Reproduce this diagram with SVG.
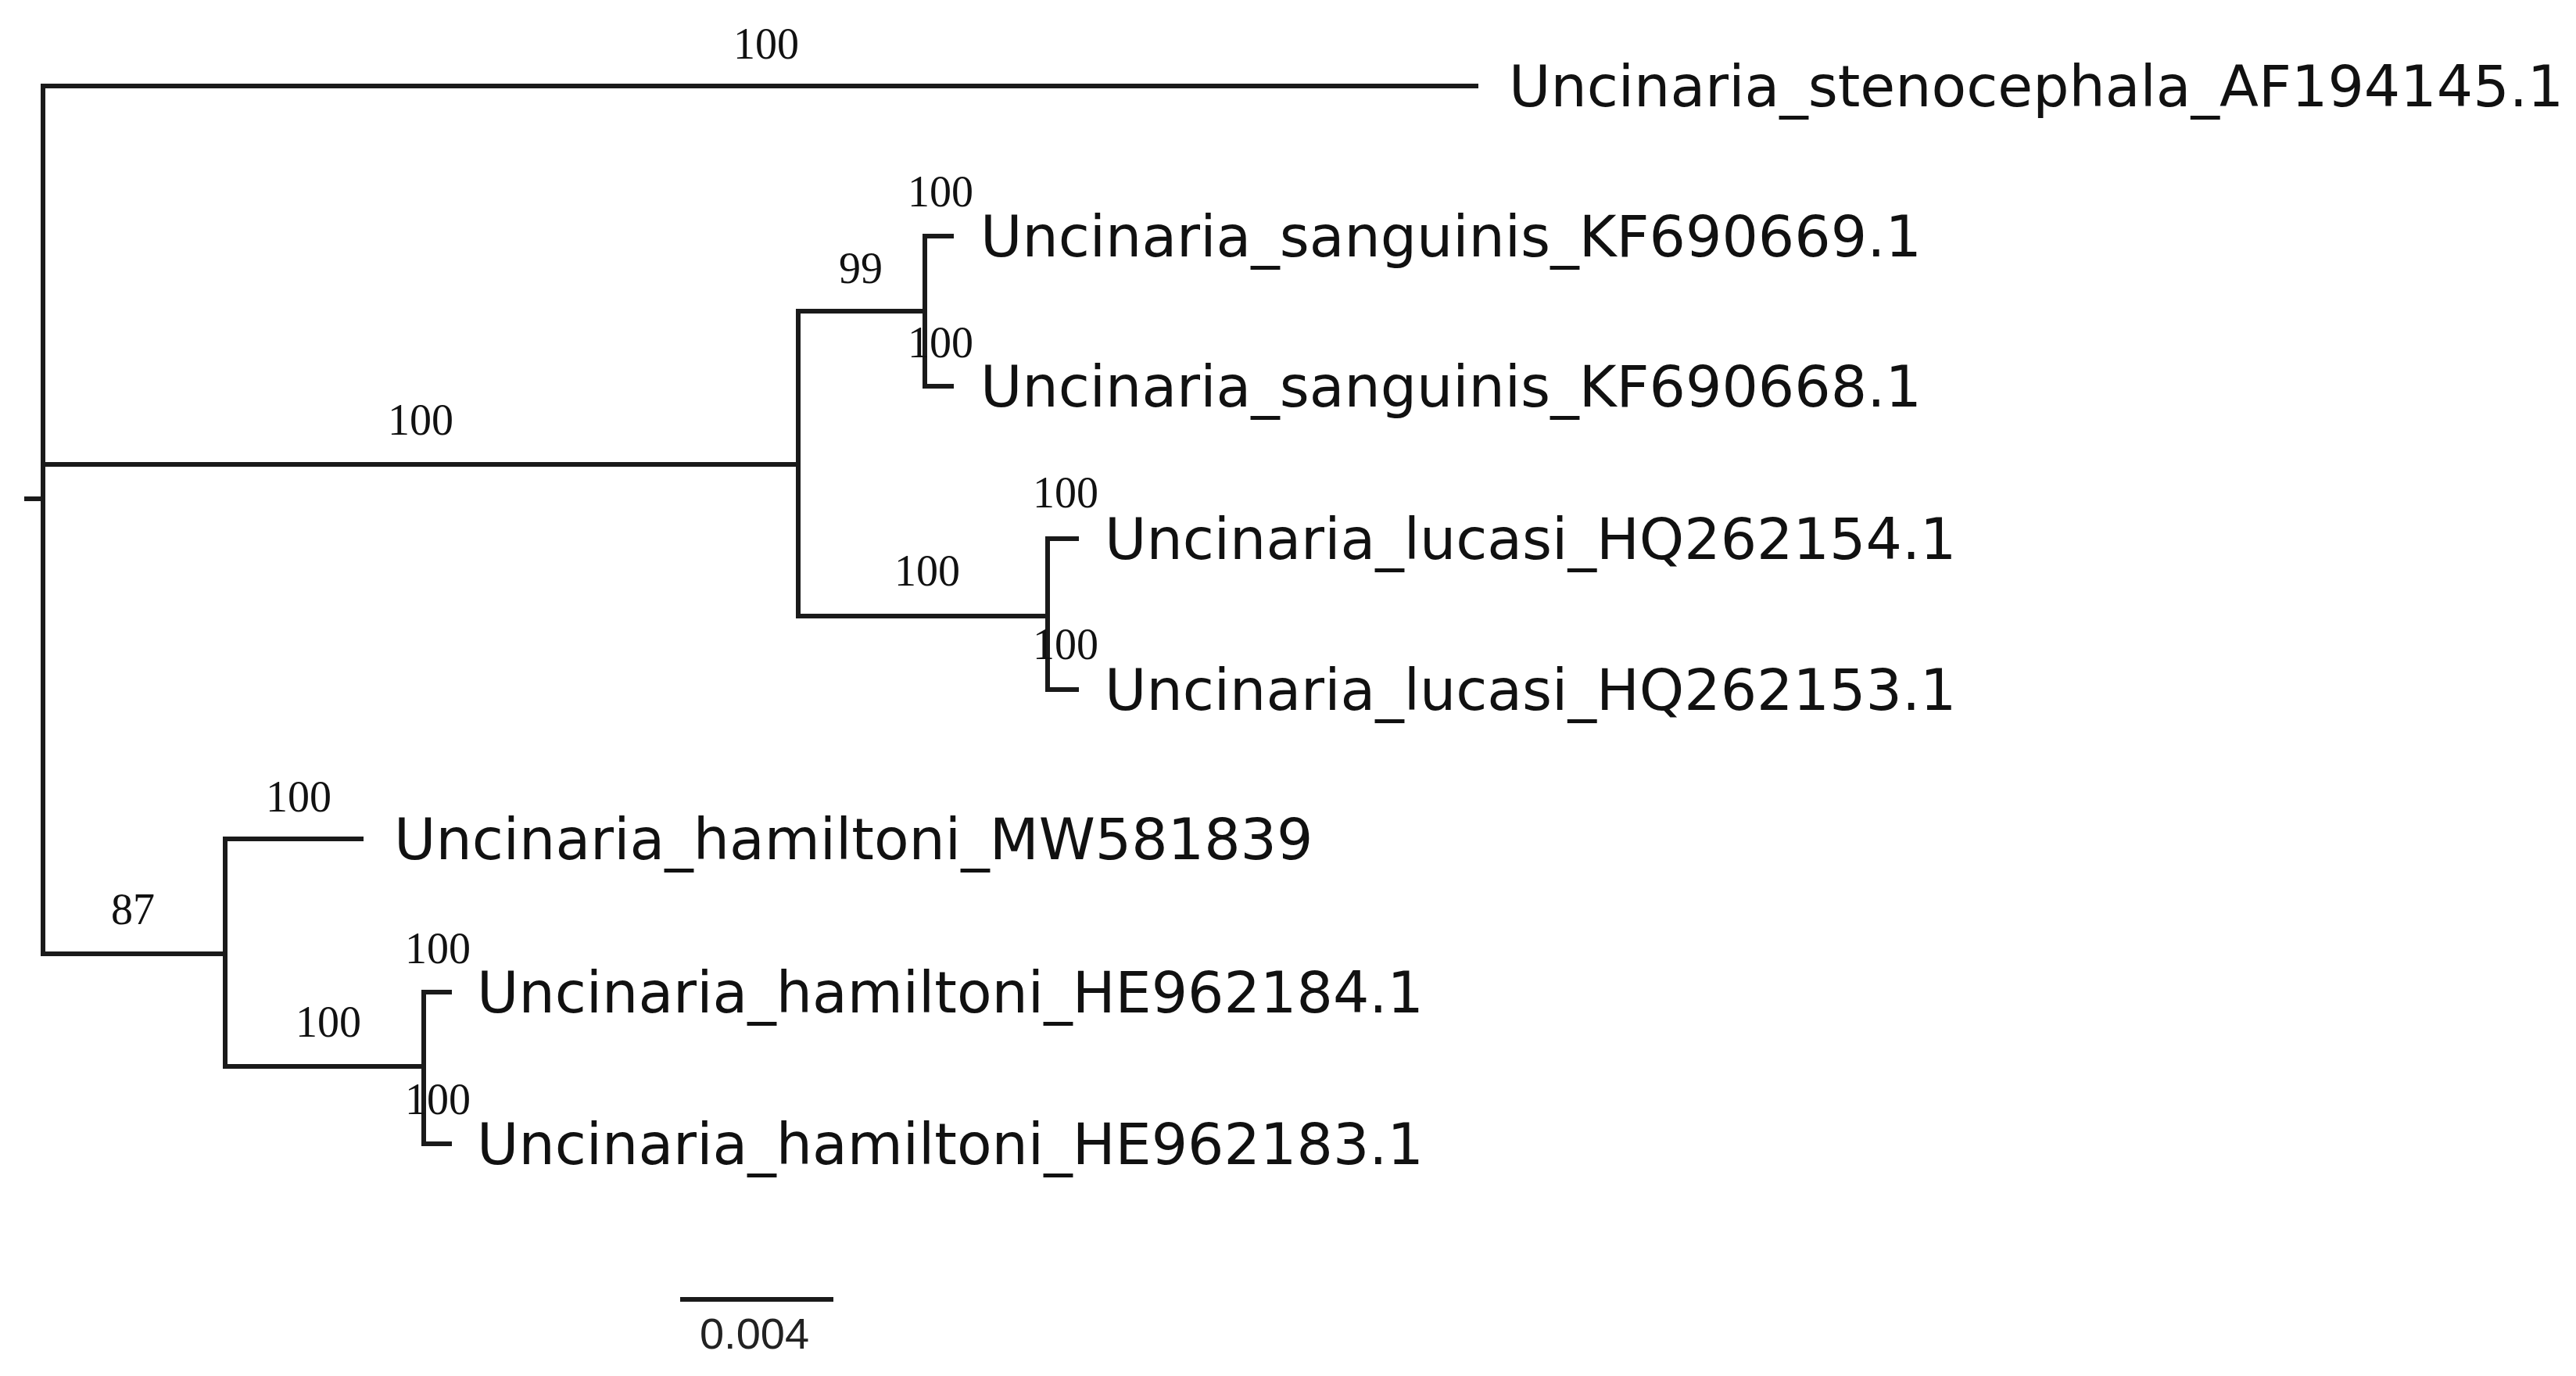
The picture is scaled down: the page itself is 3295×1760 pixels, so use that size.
<svg xmlns="http://www.w3.org/2000/svg" width="3295" height="1760" viewBox="0 0 3295 1760">
<style>
.br{fill:none;stroke:#1a1a1a;stroke-width:6;stroke-linecap:square}
.tip{font-family:"DejaVu Sans",sans-serif;font-size:73px;fill:#111}
.sup{font-family:"Liberation Serif",serif;font-size:56px;fill:#111;text-anchor:middle}
.scale{font-family:"Liberation Sans",sans-serif;font-size:56px;fill:#222;text-anchor:middle}
</style>
<rect width="3295" height="1760" fill="#fff"/>
<g id="connectors">
<path class="br" d="M34,638 H55"/>
<path class="br" d="M55,110 V1220"/>
<path class="br" d="M55,110 H1888"/>
<path class="br" d="M55,594 H1021"/>
<path class="br" d="M1021,398 V788"/>
<path class="br" d="M1021,398 H1183"/>
<path class="br" d="M1183,302 V494"/>
<path class="br" d="M1183,302 H1217"/>
<path class="br" d="M1183,494 H1217"/>
<path class="br" d="M1021,788 H1340"/>
<path class="br" d="M1340,689 V882"/>
<path class="br" d="M1340,689 H1377"/>
<path class="br" d="M1340,882 H1377"/>
<path class="br" d="M55,1220 H288"/>
<path class="br" d="M288,1073 V1364"/>
<path class="br" d="M288,1073 H462"/>
<path class="br" d="M288,1364 H542"/>
<path class="br" d="M542,1269 V1463"/>
<path class="br" d="M542,1269 H575"/>
<path class="br" d="M542,1463 H575"/>
</g>
<g id="node-stenocephala"><text class="sup" x="980" y="75">100</text><text class="tip" x="1930" y="136">Uncinaria_stenocephala_AF194145.1</text></g>
<g id="node-clade-sanguinis-lucasi"><text class="sup" x="538" y="556">100</text></g>
<g id="node-clade-sanguinis"><text class="sup" x="1101" y="362">99</text></g>
<g id="node-sanguinis-669"><text class="sup" x="1203" y="264">100</text><text class="tip" x="1254" y="328">Uncinaria_sanguinis_KF690669.1</text></g>
<g id="node-sanguinis-668"><text class="sup" x="1203" y="457">100</text><text class="tip" x="1254" y="520">Uncinaria_sanguinis_KF690668.1</text></g>
<g id="node-clade-lucasi"><text class="sup" x="1186" y="749">100</text></g>
<g id="node-lucasi-154"><text class="sup" x="1363" y="649">100</text><text class="tip" x="1413" y="715">Uncinaria_lucasi_HQ262154.1</text></g>
<g id="node-lucasi-153"><text class="sup" x="1363" y="843">100</text><text class="tip" x="1413" y="908">Uncinaria_lucasi_HQ262153.1</text></g>
<g id="node-clade-hamiltoni"><text class="sup" x="170" y="1182">87</text></g>
<g id="node-hamiltoni-mw"><text class="sup" x="382" y="1038">100</text><text class="tip" x="504" y="1099">Uncinaria_hamiltoni_MW581839</text></g>
<g id="node-clade-hamiltoni-he"><text class="sup" x="420" y="1326">100</text></g>
<g id="node-hamiltoni-184"><text class="sup" x="560" y="1232">100</text><text class="tip" x="610" y="1295">Uncinaria_hamiltoni_HE962184.1</text></g>
<g id="node-hamiltoni-183"><text class="sup" x="560" y="1425">100</text><text class="tip" x="610" y="1489">Uncinaria_hamiltoni_HE962183.1</text></g>
<g id="scale-bar"><path class="br" d="M873,1662 H1063"/><text class="scale" x="965" y="1725">0.004</text></g>
</svg>
